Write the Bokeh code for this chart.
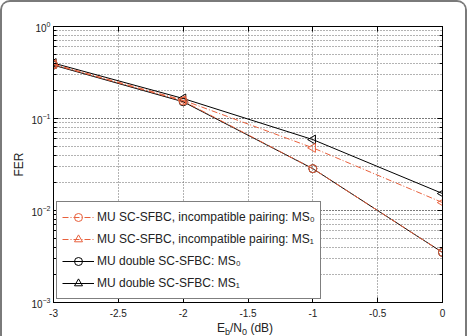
import numpy as np
from bokeh.plotting import figure
from bokeh.layouts import column
from bokeh.models import (Range1d, LogAxis, LinearAxis, Legend, LegendItem,
                          Div, FixedTicker, CustomJSTickFormatter)
from bokeh.embed import file_html
from bokeh.resources import INLINE

# Eb/N0 operating points (dB) and frame error rates per scheme
snr_db = [-3, -2, -1, 0]
fer_incomp_ms0 = [0.385, 0.155, 0.0285, 0.0035]
fer_incomp_ms1 = [0.39, 0.158, 0.048, 0.0122]
fer_double_ms0 = [0.38, 0.152, 0.0285, 0.0035]
fer_double_ms1 = [0.40, 0.165, 0.059, 0.0153]

x_ticks = [-3, -2.5, -2, -1.5, -1, -0.5, 0]
legend_labels = [
    "MU SC-SFBC, incompatible pairing: MS\u2080",
    "MU SC-SFBC, incompatible pairing: MS\u2081",
    "MU double SC-SFBC: MS\u2080",
    "MU double SC-SFBC: MS\u2081",
]

FONT = "Liberation Sans"
RED = "#e8603c"
GRID = "#666666"

p = figure(width=463, height=318,
           x_range=Range1d(-3, 0), y_range=Range1d(1e-3, 1),
           y_axis_type="log", output_backend="svg", toolbar_location=None,
           min_border_left=51, min_border_right=23,
           min_border_top=24, min_border_bottom=18,
           background_fill_color="white", border_fill_color="white",
           outline_line_color="black", outline_line_width=1)

# axes
p.xaxis.ticker = FixedTicker(ticks=x_ticks)
p.xaxis.formatter = CustomJSTickFormatter(code="return String(tick);")
for ax in (p.xaxis[0], p.yaxis[0]):
    ax.axis_line_color = "black"
    ax.major_tick_line_color = "black"
    ax.minor_tick_line_color = "black"
    ax.major_tick_in = 5
    ax.major_tick_out = 0
    ax.minor_tick_out = 0
    ax.major_label_text_font = FONT
    ax.major_label_text_font_size = "10px"
    ax.major_label_text_color = "#222222"
p.xaxis.minor_tick_in = 0
p.xaxis.major_label_standoff = 6
p.yaxis.minor_tick_in = 3
p.yaxis.major_label_standoff = 3
p.yaxis.axis_label = "FER"
p.yaxis.axis_label_text_font = FONT
p.yaxis.axis_label_text_font_size = "12px"
p.yaxis.axis_label_text_font_style = "normal"
p.yaxis.axis_label_text_color = "#222222"
p.yaxis.axis_label_standoff = 2

# tick marks on the opposite sides of the box, without labels
blank = CustomJSTickFormatter(code="return '';")
right_ax = LogAxis(formatter=blank, major_tick_in=5, major_tick_out=0,
                   minor_tick_in=3, minor_tick_out=0, axis_line_color="black",
                   major_label_standoff=0)
top_ax = LinearAxis(ticker=FixedTicker(ticks=x_ticks), formatter=blank,
                    major_tick_in=5, major_tick_out=0, minor_tick_in=0, minor_tick_out=0,
                    axis_line_color="black", major_label_standoff=0)
p.add_layout(right_ax, "right")
p.add_layout(top_ax, "above")

# dotted grid
p.xgrid.grid_line_color = GRID
p.xgrid.grid_line_dash = "1 2"
p.ygrid.grid_line_color = GRID
p.ygrid.grid_line_dash = "1 2"
p.ygrid.minor_grid_line_color = GRID
p.ygrid.minor_grid_line_dash = "1 2"

# curves (left-pointing triangles: triangle rotated by 90 degrees)
l_d0 = p.line(snr_db, fer_double_ms0, line_color="black", line_width=1)
m_d0 = p.scatter(snr_db, fer_double_ms0, marker="circle", size=8,
                 line_color="black", fill_color=None)
l_d1 = p.line(snr_db, fer_double_ms1, line_color="black", line_width=1)
m_d1 = p.scatter(snr_db, fer_double_ms1, marker="triangle", size=9,
                 angle=90, angle_units="deg",
                 line_color="black", fill_color=None)
l_i0 = p.line(snr_db, fer_incomp_ms0, line_color=RED, line_width=1, line_dash="6 2 1 2")
m_i0 = p.scatter(snr_db, fer_incomp_ms0, marker="circle", size=8,
                 line_color=RED, fill_color=None)
l_i1 = p.line(snr_db, fer_incomp_ms1, line_color=RED, line_width=1, line_dash="6 2 1 2")
m_i1 = p.scatter(snr_db, fer_incomp_ms1, marker="triangle", size=9,
                 angle=90, angle_units="deg",
                 line_color=RED, fill_color=None)

legend = Legend(items=[
    LegendItem(label=legend_labels[0], renderers=[l_i0, m_i0]),
    LegendItem(label=legend_labels[1], renderers=[l_i1, m_i1]),
    LegendItem(label=legend_labels[2], renderers=[l_d0, m_d0]),
    LegendItem(label=legend_labels[3], renderers=[l_d1, m_d1]),
], location="bottom_left", margin=3, padding=5, spacing=2,
    glyph_height=20, glyph_width=32, label_height=20, label_standoff=3,
    label_text_font=FONT, label_text_font_size="12px", label_text_color="#222222",
    border_line_color="black", border_line_width=1, background_fill_color="white",
    background_fill_alpha=1.0)
p.add_layout(legend)

# x-axis title with subscripts: E_b/N_0 (dB)
xlabel = Div(
    text=('<div style="padding-left:215px;font-family:\'Liberation Sans\';'
          'font-size:12px;line-height:12px;color:#222222;white-space:nowrap;">'
          'E<sub style="font-size:9px;">b</sub>/N<sub style="font-size:9px;">0</sub>'
          ' (dB)</div>'),
    width=463, height=16, margin=0)

layout = column(p, xlabel, spacing=0,
                styles={"border-top": "2px solid #7a7a7a",
                        "border-left": "2px solid #7a7a7a",
                        "border-right": "2px solid #7a7a7a",
                        "border-radius": "10px 10px 0 0",
                        "overflow": "hidden", "background": "white"})

open("out.html", "w").write(file_html(layout, INLINE))
